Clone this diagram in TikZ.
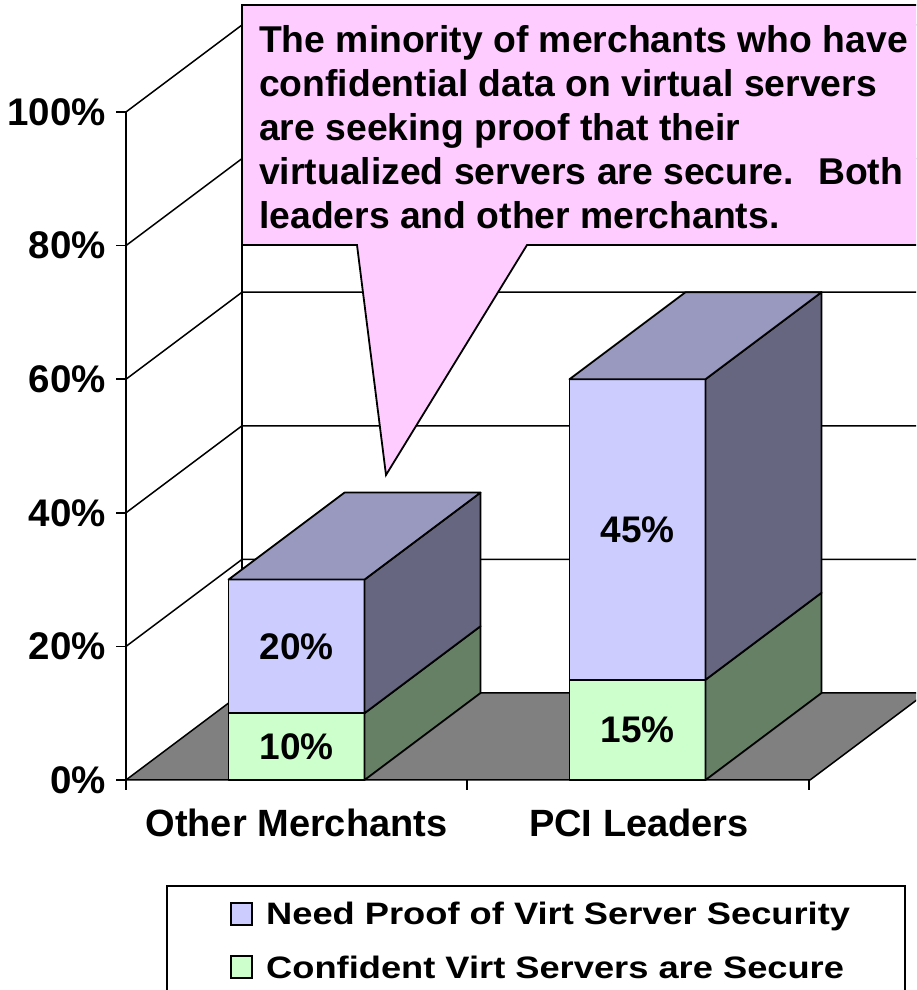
\documentclass[tikz,border=0pt]{standalone}
\usepackage{fontspec}
\setmainfont{Liberation Sans}
\newfontfamily\legendfont[FakeStretch=1.17]{Liberation Sans}
\usepackage{tikz}
\definecolor{needfront}{RGB}{204,204,255}
\definecolor{needtop}{RGB}{153,153,191}
\definecolor{needside}{RGB}{102,102,128}
\definecolor{okfront}{RGB}{204,255,204}
\definecolor{okside}{RGB}{102,128,102}
\definecolor{floorgray}{RGB}{128,128,128}
\definecolor{notepink}{RGB}{255,204,255}
\tikzstyle{gridline}=[draw=black,line width=1.5pt]
\tikzstyle{barface}=[draw=black,line width=1.8pt,line join=round]
\tikzstyle{axislabel}=[anchor=east,inner sep=0pt,font=\fontsize{38.5}{44}\selectfont\bfseries]
\tikzstyle{catlabel}=[anchor=base,inner sep=0pt,font=\fontsize{38}{44}\selectfont\bfseries]
\tikzstyle{barlabel}=[inner sep=0pt,font=\fontsize{37}{44}\selectfont\bfseries]
\tikzstyle{calloutbox}=[draw=black,line width=1.8pt,fill=notepink,line join=miter]
\tikzstyle{calloutext}=[anchor=north west,inner sep=0pt,align=left,font=\fontsize{37.3}{44}\selectfont\bfseries]
\tikzstyle{legendtext}=[anchor=base west,inner sep=0pt,font=\legendfont\fontsize{31}{36}\selectfont\bfseries]

\begin{document}
\begin{tikzpicture}[x=1pt,y=1pt]
  \useasboundingbox (0,0) rectangle (916,990);
  \clip (0,0) rectangle (916,990);

  % floor and walls
  \fill[floorgray] (126,210)--(810,210)--(926,297)--(242,297)--cycle;
  \draw[gridline] (126,210)--(810,210)--(926,297); \draw[gridline] (126,210)--(242,297)--(926,297);
  \draw[gridline] (126,343.6)--(242,430.6)--(926,430.6);
  \draw[gridline] (126,477.2)--(242,564.2)--(926,564.2);
  \draw[gridline] (126,610.8)--(242,697.8)--(926,697.8);
  \draw[gridline] (126,744.4)--(242,831.4)--(926,831.4);
  \draw[gridline] (126,878)--(242,965)--(926,965);
  \draw[gridline] (242,297)--(242,965);

  % value axis
  \draw[gridline] (126,200)--(126,878);
  \draw[gridline] (116,210)--(126,210); \draw[gridline] (116,343.6)--(126,343.6);
  \draw[gridline] (116,477.2)--(126,477.2); \draw[gridline] (116,610.8)--(126,610.8);
  \draw[gridline] (116,744.4)--(126,744.4); \draw[gridline] (116,878)--(126,878);
  \draw[gridline] (467,200)--(467,210); \draw[gridline] (809,200)--(809,210);
  \node[axislabel] (p0) at (106,210) {0\%};
  \node[axislabel] (p20) at (106,343.6) {20\%};
  \node[axislabel] (p40) at (106,477.2) {40\%};
  \node[axislabel] (p60) at (106,610.8) {60\%};
  \node[axislabel] (p80) at (106,744.4) {80\%};
  \node[axislabel] (p100) at (106,878) {100\%};

  % callout
  \draw[calloutbox] (242,985)--(930,985)--(930,745)--(527,745)--(386,515)--(357,745)--(242,745)--cycle;
  \node[calloutext] (note) at (259,965) {The minority of merchants who have\\confidential data on virtual servers\\are seeking proof that their\\virtualized servers are secure.~ Both\\leaders and other merchants.};

  % Other Merchants bar
  \draw[barface,fill=okfront] (228.5,210) rectangle (364.5,276.8);
  \draw[barface,fill=okside] (364.5,210)--(480.5,297)--(480.5,363.8)--(364.5,276.8)--cycle;
  \draw[barface,fill=needfront] (228.5,276.8) rectangle (364.5,410.4);
  \draw[barface,fill=needside] (364.5,276.8)--(480.5,363.8)--(480.5,497.4)--(364.5,410.4)--cycle;
  \draw[barface,fill=needtop] (228.5,410.4)--(344.5,497.4)--(480.5,497.4)--(364.5,410.4)--cycle;
  \node[barlabel] (om10) at (296.5,243.4) {10\%};
  \node[barlabel] (om20) at (296.5,343.6) {20\%};

  % PCI Leaders bar
  \draw[barface,fill=okfront] (569.5,210) rectangle (705.5,310.2);
  \draw[barface,fill=okside] (705.5,210)--(821.5,297)--(821.5,397.2)--(705.5,310.2)--cycle;
  \draw[barface,fill=needfront] (569.5,310.2) rectangle (705.5,610.8);
  \draw[barface,fill=needside] (705.5,310.2)--(821.5,397.2)--(821.5,697.8)--(705.5,610.8)--cycle;
  \draw[barface,fill=needtop] (569.5,610.8)--(685.5,697.8)--(821.5,697.8)--(705.5,610.8)--cycle;
  \node[barlabel] (pl15) at (637.5,260.1) {15\%};
  \node[barlabel] (pl45) at (637.5,460.5) {45\%};

  % categories
  \node[catlabel] (other) at (296.5,153) {Other Merchants};
  \node[catlabel] (pci) at (639,153) {PCI Leaders};

  % legend
  \draw[gridline,fill=white] (167,104) rectangle (905,-10);
  \draw[line width=1.5pt,fill=needfront] (231,65) rectangle (252,87);
  \draw[line width=1.5pt,fill=okfront] (231,12) rectangle (252,34);
  \node[legendtext] (needkey) at (266,65) {Need Proof of Virt Server Security};
  \node[legendtext] (okkey) at (266,12) {Confident Virt Servers are Secure};
\end{tikzpicture}
\end{document}
